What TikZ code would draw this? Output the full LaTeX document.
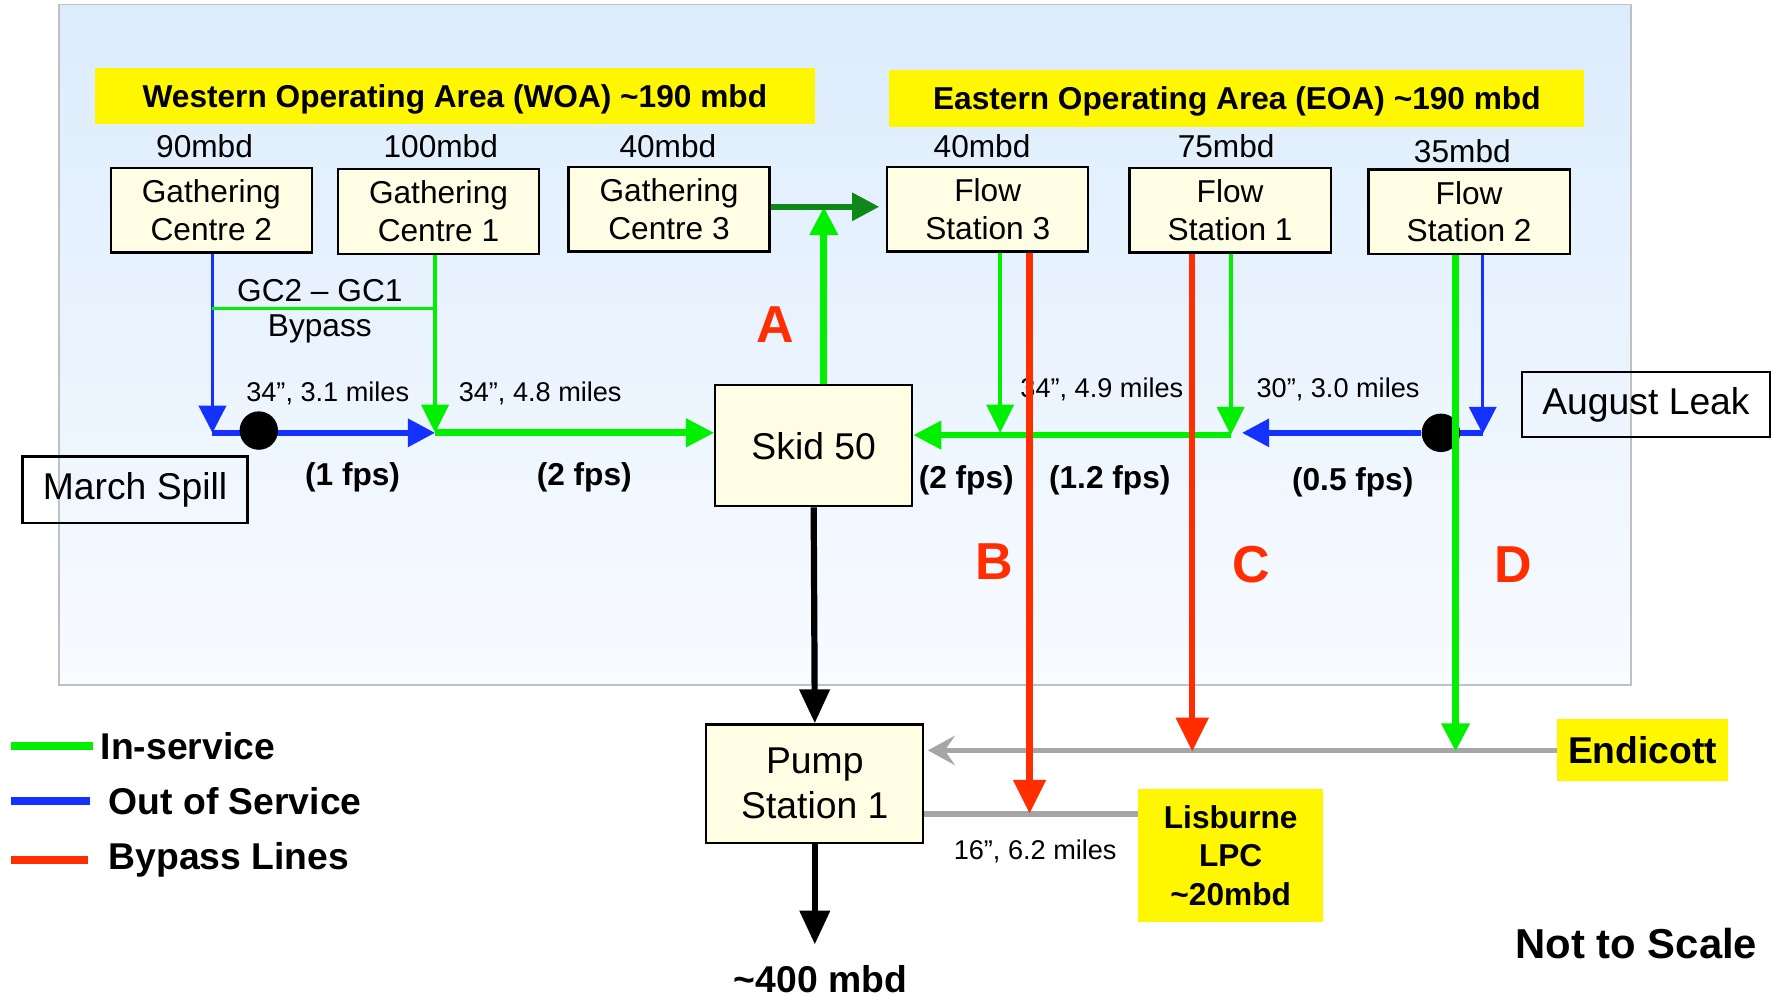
\documentclass[tikz,border=0pt]{standalone}
\usepackage{fontspec}
\setmainfont{Liberation Sans}
\usetikzlibrary{arrows.meta}

\definecolor{pipegreen}{RGB}{0,240,0}
\definecolor{pipeblue}{RGB}{20,50,255}
\definecolor{pipered}{RGB}{255,45,0}
\definecolor{feedgreen}{RGB}{15,135,25}
\definecolor{pipegrey}{RGB}{166,166,166}
\definecolor{banneryellow}{RGB}{255,247,0}
\definecolor{boxcream}{RGB}{255,253,228}
\definecolor{paneltop}{RGB}{220,236,253}
\definecolor{panelbottom}{RGB}{248,251,255}
\definecolor{panelline}{RGB}{192,192,192}

\begin{document}
\begin{tikzpicture}[x=1pt, y=-1pt,
  plant/.style={draw, line width=2pt, fill=boxcream, inner sep=0pt, align=center,
    minimum width=178pt, minimum height=75pt, font={\fontsize{28}{33}\selectfont}},
  incident/.style={draw, line width=2pt, inner sep=0pt, font={\fontsize{33}{38}\selectfont}},
  supply/.style={fill=banneryellow, inner sep=0pt, align=center, font={\bfseries\fontsize{33}{38}\selectfont}},
  banner/.style={fill=banneryellow, inner sep=0pt, text depth=0pt, minimum height=50pt, font={\bfseries\fontsize{28}{33}\selectfont}},
  rate/.style={inner sep=0pt, font={\fontsize{28}{33}\selectfont}},
  pipelabel/.style={inner sep=0pt, font={\fontsize{24}{28}\selectfont}},
  speed/.style={inner sep=0pt, font={\bfseries\fontsize{28}{33}\selectfont}},
  lineletter/.style={inner sep=0pt, text=pipered, font={\bfseries\fontsize{46}{50}\selectfont}},
  legendtext/.style={inner sep=0pt, anchor=west, font={\bfseries\fontsize{33}{38}\selectfont}},
  valve/.style={circle, fill=black, inner sep=0pt, minimum size=34pt},
  greenthick/.style={pipegreen, line width=6pt, -{Triangle[length=25pt,width=24pt]}},
  greenthin/.style={pipegreen, line width=3.5pt, -{Triangle[length=25pt,width=24pt]}},
  bluethick/.style={pipeblue, line width=5pt, -{Triangle[length=24pt,width=24pt]}},
  bluethin/.style={pipeblue, line width=3pt, -{Triangle[length=24pt,width=24pt]}},
  redline/.style={pipered, line width=5.5pt, -{Triangle[length=30pt,width=28pt]}},
  blackline/.style={black, line width=5.5pt, -{Triangle[length=30pt,width=26pt]}},
  greyline/.style={pipegrey, line width=5pt}]

\useasboundingbox (0,0) rectangle (1568,882);

% Draw the operating area panel
\fill[top color=paneltop, bottom color=panelbottom] (52,4) rectangle (1443,606);
\draw[panelline, line width=1.5pt] (52,4) rectangle (1443,606);

% Area banners
\node[banner, minimum width=637pt] (woa) at (402.5,85) {Western Operating Area (WOA) \textasciitilde190 mbd};
\node[banner, minimum width=615pt] (eoa) at (1094.5,87) {Eastern Operating Area (EOA) \textasciitilde190 mbd};

% Rates above the plants
\node[rate] (gc2rate) at (181,129) {90mbd};
\node[rate] (gc1rate) at (390,129) {100mbd};
\node[rate] (gc3rate) at (591,129) {40mbd};
\node[rate] (fs3rate) at (869,129) {40mbd};
\node[rate] (fs1rate) at (1085,129) {75mbd};
\node[rate] (fs2rate) at (1294,134) {35mbd};

% Plants
\node[plant] (gc2) at (187,186) {Gathering\\Centre 2};
\node[plant] (gc1) at (388,187) {Gathering\\Centre 1};
\node[plant] (gc3) at (592,185) {Gathering\\Centre 3};
\node[plant] (fs3) at (874,185) {Flow\\Station 3};
\node[plant] (fs1) at (1088.5,186) {Flow\\Station 1};
\node[plant] (fs2) at (1300,187.5) {Flow\\Station 2};
\node[plant, minimum width=174pt, minimum height=107pt, font={\fontsize{33}{38}\selectfont}] (skid) at (720,394.5) {Skid 50};
\node[plant, minimum width=192pt, minimum height=105pt, font={\fontsize{33}{40}\selectfont}] (pump) at (721,693.5) {Pump\\Station 1};

% Incidents and outside supplies
\node[incident, minimum width=199pt, minimum height=59pt] (spill) at (119.5,433.5) {March Spill};
\node[incident, minimum width=219pt, minimum height=58pt] (leak) at (1456.5,358) {August Leak};
\node[supply, minimum width=151pt, minimum height=55pt] (endicott) at (1453.5,664) {Endicott};
\node[supply, minimum width=164pt, minimum height=118pt, font={\bfseries\fontsize{28}{34}\selectfont}] (lisburne) at (1089,757) {Lisburne\\LPC\\\textasciitilde20mbd};

% Junctions
\coordinate (wcorner) at (188,383);
\coordinate (wjoin) at (385,383);
\coordinate (wbypass) at (188,273);
\coordinate (atop) at (729,183);
\coordinate (fs3drop) at (885,383);
\coordinate (ejoin) at (1089,385);
\coordinate (ljoin) at (1312,384);
\coordinate (bjoin) at (911,720);
\coordinate (cjoin) at (1055,665);
\coordinate (djoin) at (1288,665);

% Pipe labels
\node[rate] (bypass1) at (283,257) {GC2 -- GC1};
\node[rate] (bypass2) at (283,291) {Bypass};
\node[pipelabel] (len31) at (290,348) {34”, 3.1 miles};
\node[pipelabel] (len48) at (478,348) {34”, 4.8 miles};
\node[pipelabel] (len49) at (975,345) {34”, 4.9 miles};
\node[pipelabel] (len30) at (1184,345) {30”, 3.0 miles};
\node[pipelabel] (len62) at (916,753) {16”, 6.2 miles};
\node[speed] (fps1) at (312,422) {(1 fps)};
\node[speed] (fps2) at (517,422) {(2 fps)};
\node[speed] (fps3) at (855,425) {(2 fps)};
\node[speed] (fps4) at (982,425) {(1.2 fps)};
\node[speed] (fps5) at (1197,427) {(0.5 fps)};
\node[lineletter] (letA) at (686,287) {A};
\node[lineletter] (letB) at (880,497) {B};
\node[lineletter] (letC) at (1107,500) {C};
\node[lineletter] (letD) at (1339,500) {D};

% Western lines
\draw[bluethin] (gc2.south -| wcorner) -- (wcorner);
\draw[bluethick] (wcorner) -- (wjoin);
\draw[greenthin, -] (wbypass) -- (wbypass -| wjoin);
\draw[greenthin] (gc1.south -| wjoin) -- (wjoin);
\draw[greenthick] (wjoin) -- (skid.west |- wjoin);
\node[valve] (spilldot) at (229,381) {};

% Line A and GC3 feed
\draw[greenthick] (skid.north -| atop) -- (atop);
\draw[feedgreen, line width=5pt, -{Triangle[length=24pt,width=24pt]}, shorten >=6pt] (gc3.east |- atop) -- (fs3.west |- atop);

% Eastern lines
\node[valve] (leakdot) at (1275,383) {};
\draw[greenthin] (fs3.south -| fs3drop) -- (fs3drop);
\draw[greenthin] (fs1.south -| ejoin) -- (ejoin);
\draw[greenthick] (ejoin) -- (skid.east |- ejoin);
\draw[bluethick, shorten >=10pt] (leakdot) -- (leakdot -| ejoin);
\draw[bluethick, -] (leakdot) -- (leakdot -| ljoin);
\draw[bluethin] (fs2.south -| ljoin) -- (ljoin);

% Outside supply lines
\draw[greyline, -{Stealth[length=24pt,width=26pt,inset=9pt]}, shorten >=3pt] (endicott.west) -- (pump.east |- endicott.west);
\draw[greyline] (pump.east |- bjoin) -- (lisburne.west |- bjoin);

% Bypass lines B, C and line D
\draw[redline] (fs3.south -| bjoin) -- (bjoin);
\draw[redline] (fs1.south -| cjoin) -- (cjoin);
\draw[greenthick] (fs2.south -| djoin) -- (djoin);

% Main line out
\node[speed, font={\bfseries\fontsize{33}{38}\selectfont}] (total) at (726,866) {\textasciitilde400 mbd};
\draw[blackline] (skid.south) -- (pump.north);
\draw[blackline, shorten >=18pt] (pump.south) -- (pump.south |- total.north);

% Legend
\node[legendtext] (leggreen) at (89,660) {In-service};
\node[legendtext] (legblue) at (96,709) {Out of Service};
\node[legendtext] (legred) at (96,761) {Bypass Lines};
\draw[pipegreen, line width=7.5pt] (10,660) -- (82,660);
\draw[pipeblue, line width=7.5pt] (10,709) -- (80,709);
\draw[pipered, line width=7.5pt] (10,761) -- (78,761);
\node[inner sep=0pt, font={\bfseries\fontsize{37}{42}\selectfont}] (scale) at (1448,835) {Not to Scale};
\end{tikzpicture}
\end{document}
